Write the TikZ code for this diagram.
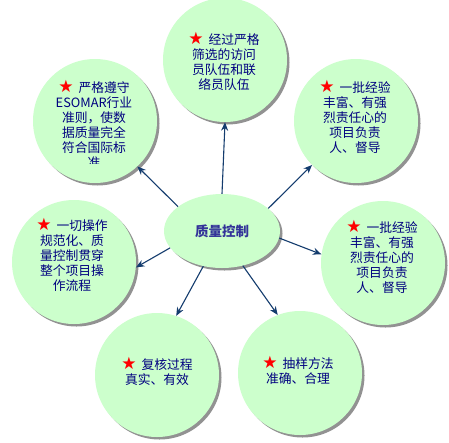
\documentclass[tikz,border=0pt]{standalone}
\usepackage{fontspec}
\setmainfont{Noto Sans CJK SC}
\newfontfamily\symfont{DejaVu Sans}
\usetikzlibrary{shadows,arrows.meta,shapes.geometric}
\definecolor{bubblefill}{RGB}{204,255,204}
\definecolor{txtblue}{RGB}{0,0,128}
\definecolor{hubtxt}{RGB}{51,51,153}
\definecolor{arrowblue}{RGB}{20,60,110}
\newcommand{\rstar}{{\symfont\fontsize{17}{15}\selectfont\color{red}★}\hspace{5pt}}
\begin{document}
\begin{tikzpicture}[x=1pt,y=-1pt,
  bubble/.style={circle,fill=bubblefill,minimum size=124pt,inner sep=0pt,
    drop shadow={shadow xshift=2.5pt,shadow yshift=-2.5pt,fill=black!65,opacity=0.65}},
  hub/.style={ellipse,fill=bubblefill,minimum width=116pt,minimum height=74pt,inner sep=0pt,
    text=hubtxt,font=\bfseries\fontsize{13.5}{16}\selectfont,
    drop shadow={shadow xshift=2.5pt,shadow yshift=-2.5pt,fill=black!65,opacity=0.65}},
  txt/.style={align=center,text=txtblue,font=\fontsize{12.8}{15}\selectfont,inner sep=0pt},
  arr/.style={draw=arrowblue,line width=1.1pt,-{Stealth[length=8.5pt,width=7pt]}}]
\useasboundingbox (0,0) rectangle (449,442);
\fill[white] (0,0) rectangle (449,442);
% bubbles
\node[bubble] (t)  at (225,60)  {};
\node[bubble] (ul) at (95,121)  {};
\node[bubble] (ur) at (356,121) {};
\node[bubble] (l)  at (74,262)  {};
\node[bubble] (r)  at (383,263) {};
\node[bubble] (bl) at (157,375) {};
\node[bubble] (br) at (300,373) {};
\node[hub] (c) at (222,231) {质量控制};
% texts
\node[txt] (tt) at (224,61) {\rstar 经过严格\\筛选的访问\\员队伍和联\\络员队伍};
\begin{scope}
  \clip (20,50) rectangle (175,163);
  \node[txt] (ult) at (94,124.5) {\rstar 严格遵守\\ESOMAR行业\\准则，使数\\据质量完全\\符合国际标\\准};
\end{scope}
\node[txt] (urt) at (355,117) {\rstar 一批经验\\丰富、有强\\烈责任心的\\项目负责\\人、督导};
\node[txt] (lt)  at (72,255)  {\rstar 一切操作\\规范化、质\\量控制贯穿\\整个项目操\\作流程};
\node[txt] (rt)  at (382,256.5) {\rstar 一批经验\\丰富、有强\\烈责任心的\\项目负责\\人、督导};
\node[txt] (blt) at (157,371) {\rstar 复核过程\\真实、有效};
\node[txt] (brt) at (298,370) {\rstar 抽样方法\\准确、合理};
% arrows
\draw[arr] (c.90)  -- (t.270);
\draw[arr] (c.151) -- (ul.313);
\draw[arr] (c.26)  -- (ur.225);
\draw[arr] (c.198) -- (l.355);
\draw[arr] (c.353) -- (r.172);
\draw[arr] (c.242) -- (bl.72);
\draw[arr] (c.301) -- (br.111);
\end{tikzpicture}
\end{document}
